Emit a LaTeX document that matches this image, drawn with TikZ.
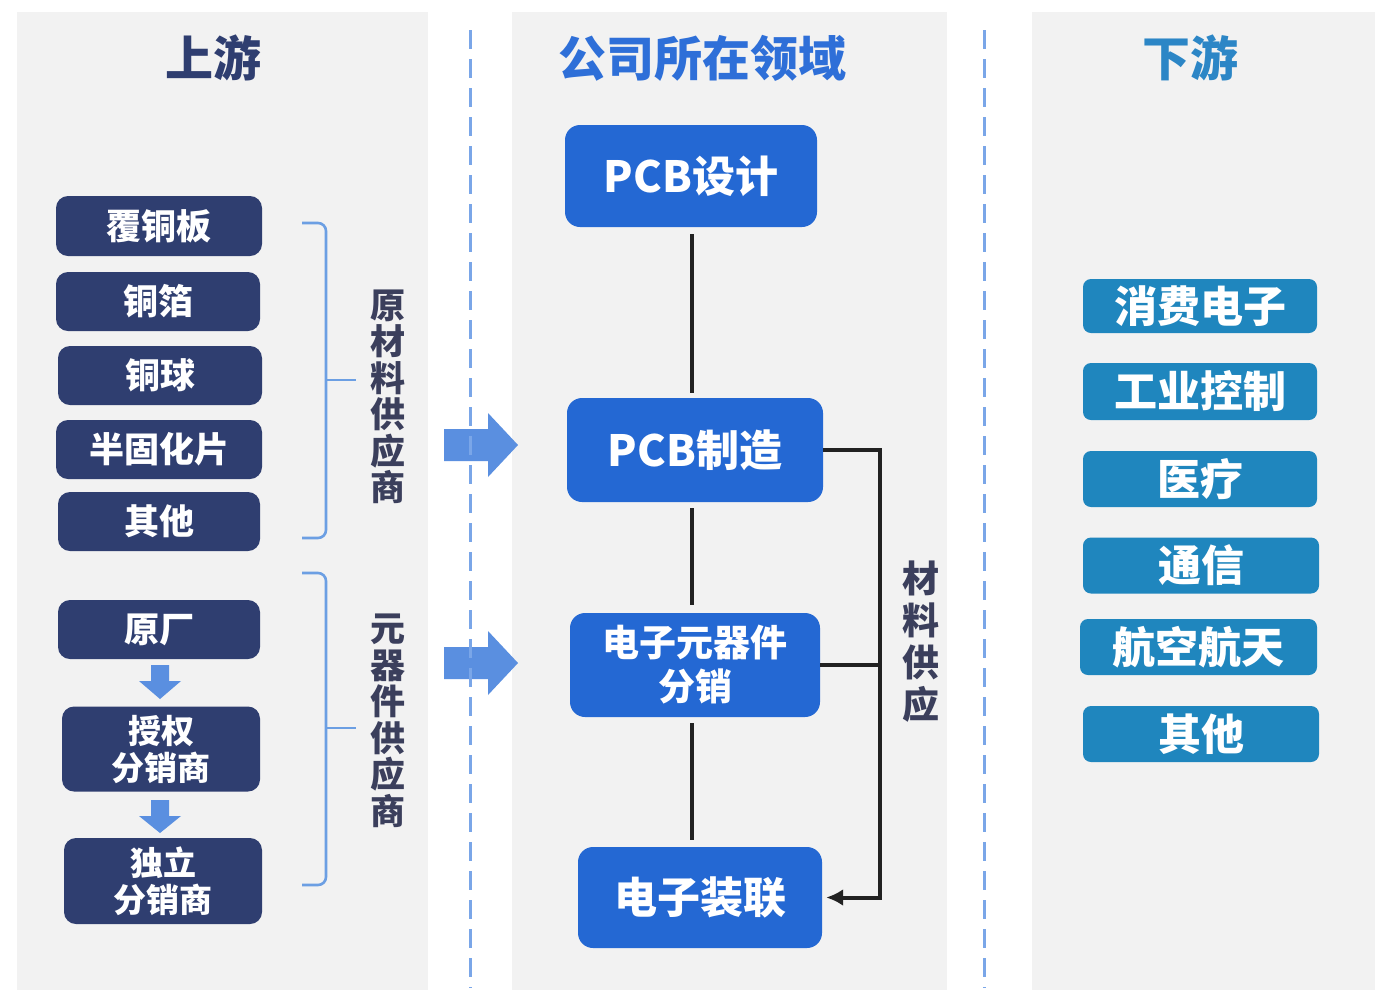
\documentclass[tikz,border=0pt]{standalone}
\usepackage{fontspec}
\newfontfamily\cjk{Noto Sans CJK SC}
\usetikzlibrary{arrows.meta}
\definecolor{panelbg}{HTML}{F2F2F2}
\definecolor{navy}{HTML}{2F3E70}
\definecolor{midblue}{HTML}{2468D3}
\definecolor{teal}{HTML}{1F86BE}
\definecolor{ttlmid}{HTML}{2E6FD8}
\definecolor{ttlright}{HTML}{2C86C6}
\definecolor{vtext}{HTML}{3B3F5C}
\definecolor{brk}{HTML}{6C9FE3}
\definecolor{barrow}{HTML}{5A8FE0}
\definecolor{dashc}{HTML}{7AA6E8}
\definecolor{linec}{HTML}{222222}
\tikzset{
  panel/.style={fill=panelbg, draw=none},
  navybox/.style={fill=navy, draw=none, rounded corners=12pt, text=white, inner sep=0pt, align=center,
     font=\cjk\bfseries\fontsize{35}{38}\selectfont},
  midbox/.style={fill=midblue, draw=none, rounded corners=15pt, text=white, inner sep=0pt, align=center,
     font=\cjk\bfseries\fontsize{43}{46}\selectfont},
  tealbox/.style={fill=teal, draw=none, rounded corners=8pt, text=white, inner sep=0pt, align=center,
     font=\cjk\bfseries\fontsize{43}{46}\selectfont, minimum width=234pt},
  ttl/.style={inner sep=0pt, font=\cjk\bfseries\fontsize{48}{52}\selectfont},
  vlabel/.style={inner sep=0pt, align=center, text=vtext, font=\cjk\bfseries\fontsize{35}{36.5}\selectfont},
  bracket/.style={draw=brk, line width=2.6pt, rounded corners=8pt},
  sepline/.style={draw=dashc, line width=3pt, dash pattern=on 19pt off 10pt},
  conn/.style={draw=linec, line width=4pt},
}
\begin{document}
\begin{tikzpicture}[x=1pt,y=-1pt]
\useasboundingbox (0,0) rectangle (1399,1002);
\fill[white] (0,0) rectangle (1399,1002);
% panels
\fill[panel] (17,12) rectangle (428,990);
\fill[panel] (512,12) rectangle (947,990);
\fill[panel] (1032,12) rectangle (1375,990);

% titles
\node[ttl, text=navy] (t1) at (213,58) {上游};
\node[ttl, text=ttlmid] (t2) at (702,58) {公司所在领域};
\node[ttl, text=ttlright] (t3) at (1190,58) {下游};

% left boxes
\node[navybox, minimum width=206pt, minimum height=60pt] (a1) at (159,226) {覆铜板};
\node[navybox, minimum width=204pt, minimum height=59pt] (a2) at (158,301.5) {铜箔};
\node[navybox, minimum width=204pt, minimum height=59pt] (a3) at (160,375.5) {铜球};
\node[navybox, minimum width=206pt, minimum height=59pt] (a4) at (159,449.5) {半固化片};
\node[navybox, minimum width=202pt, minimum height=59pt] (a5) at (159,521.5) {其他};
\node[navybox, minimum width=202pt, minimum height=59pt] (b1) at (159,629.5) {原厂};
\node[navybox, minimum width=198pt, minimum height=85pt, font=\cjk\bfseries\fontsize{33}{37}\selectfont] (b2) at (161,749) {授权\\分销商};
\node[navybox, minimum width=198pt, minimum height=86pt, font=\cjk\bfseries\fontsize{33}{37}\selectfont] (b3) at (163,881) {独立\\分销商};

% small down arrows
\fill[barrow] (151,665) -- (169,665) -- (169,681) -- (181,681) -- (160,699) -- (139,681) -- (151,681) -- cycle;
\fill[barrow] (151,800) -- (169,800) -- (169,816) -- (181,816) -- (160,833) -- (139,816) -- (151,816) -- cycle;

% brackets
\draw[bracket] (302,223) -- (326,223) -- (326,538) -- (302,538);
\draw[bracket] (326,380) -- (356,380);
\draw[bracket] (302,573) -- (326,573) -- (326,885) -- (302,885);
\draw[bracket] (326,728) -- (356,728);

% vertical labels
\node[vlabel] (v1) at (388,397) {原\\材\\料\\供\\应\\商};
\node[vlabel] (v2) at (388,721) {元\\器\\件\\供\\应\\商};

% block arrows
\fill[barrow] (444,429) -- (488,429) -- (488,413) -- (518,445) -- (488,477) -- (488,461) -- (444,461) -- cycle;
\fill[barrow] (444,647) -- (488,647) -- (488,631) -- (518,663) -- (488,695) -- (488,679) -- (444,679) -- cycle;

% separators
\draw[sepline] (470,30) -- (470,988);
\draw[sepline] (984,30) -- (984,988);

% middle boxes
\node[midbox, minimum width=252pt, minimum height=102pt] (m1) at (691,176) {PCB设计};
\node[midbox, minimum width=256pt, minimum height=104pt] (m2) at (695,450) {PCB制造};
\node[midbox, minimum width=250pt, minimum height=104pt, font=\cjk\bfseries\fontsize{37}{44}\selectfont] (m3) at (695,665) {电子元器件\\分销};
\node[midbox, minimum width=244pt, minimum height=101pt] (m4) at (700,897.5) {电子装联};

% middle connectors
\coordinate (vx) at (692,0);
\draw[conn, shorten <=7pt, shorten >=5pt] (m1.south -| vx) -- (m2.north -| vx);
\draw[conn, shorten <=6pt, shorten >=8pt] (m2.south -| vx) -- (m3.north -| vx);
\draw[conn, shorten <=6pt, shorten >=7pt] (m3.south -| vx) -- (m4.north -| vx);

\coordinate (bus) at (880,0);
\draw[conn, -{Latex[length=17pt,width=17pt]}, shorten >=4pt]
  (m2.east) -- (m2.east -| bus) -- (m4.east -| bus) -- (m4.east);
\draw[conn] (m3.east) -- (m3.east -| bus);

\node[vlabel, font=\cjk\bfseries\fontsize{37}{42}\selectfont] (v3) at (921,642) {材\\料\\供\\应};

% right boxes
\node[tealbox, minimum height=54pt] (r1) at (1200,306) {消费电子};
\node[tealbox, minimum height=57pt] (r2) at (1200,391.5) {工业控制};
\node[tealbox, minimum height=56pt] (r3) at (1200,479) {医疗};
\node[tealbox, minimum height=56pt, minimum width=236pt] (r4) at (1201,565.5) {通信};
\node[tealbox, minimum height=56pt, minimum width=237pt] (r5) at (1198.5,647) {航空航天};
\node[tealbox, minimum height=56pt, minimum width=236pt] (r6) at (1201,734) {其他};
\end{tikzpicture}
\end{document}
